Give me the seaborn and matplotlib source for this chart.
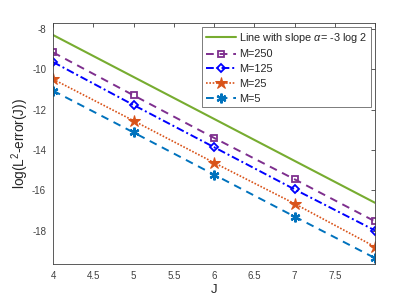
import numpy as np
import pandas as pd
import matplotlib
matplotlib.use("Agg")
import matplotlib.pyplot as plt
import seaborn as sns

# values
J = [4, 5, 6, 7, 8]
slope_line = [-8.3, -8.3 - 3 * np.log(2), -8.3 - 6 * np.log(2), -8.3 - 9 * np.log(2), -8.3 - 12 * np.log(2)]
err_m250 = [-9.16, -11.29, -13.40, -15.45, -17.54]
err_m125 = [-9.64, -11.77, -13.86, -15.95, -17.99]
err_m25 = [-10.49, -12.55, -14.63, -16.66, -18.80]
err_m5 = [-11.06, -13.13, -15.22, -17.30, -19.36]

xticks = [4, 4.5, 5, 5.5, 6, 6.5, 7, 7.5]
xticklabels = ["4", "4.5", "5", "5.5", "6", "6.5", "7", "7.5"]
yticks = [-18, -16, -14, -12, -10, -8]

sns.set_theme(style="white")
plt.rcParams['font.family'] = ['Liberation Sans', 'DejaVu Sans']
plt.rcParams['mathtext.fontset'] = 'custom'
plt.rcParams['mathtext.rm'] = 'Liberation Sans'
plt.rcParams['mathtext.it'] = 'Liberation Sans:italic'

fig = plt.figure(figsize=(4.15, 2.98), dpi=100)
ax = fig.add_axes([0.128, 0.114, 0.776, 0.809])

sns.lineplot(x=J, y=slope_line, color="#77AC30", linewidth=1.5, ax=ax,
             label=r"Line with slope $\alpha$= -3 log 2")
sns.lineplot(x=J, y=err_m250, color="#7E2F8E", linestyle=(0, (4, 3)), linewidth=1.4,
             marker="s", markersize=5, markerfacecolor="none", markeredgecolor="#7E2F8E",
             markeredgewidth=1.3, ax=ax, label="M=250")
sns.lineplot(x=J, y=err_m125, color="#0000FF", linestyle=(0, (4, 1.5, 1, 1.5)), linewidth=1.4,
             marker="D", markersize=4.5, markerfacecolor="none", markeredgecolor="#0000FF",
             markeredgewidth=1.3, ax=ax, label="M=125")
sns.lineplot(x=J, y=err_m25, color="#D95319", linestyle=(0, (1, 1)), linewidth=1.2,
             marker="*", markersize=9, markerfacecolor="#D95319", markeredgecolor="#D95319",
             ax=ax, label="M=25")
sns.lineplot(x=J, y=err_m5, color="#0072BD", linestyle=(0, (4, 3)), linewidth=1.4,
             marker=(6, 2, 0), markersize=7, markeredgecolor="#0072BD",
             markeredgewidth=1.6, ax=ax, label="M=5")

ax.set_xlim(4, 8)
ax.set_ylim(-19.65, -7.7)
ax.set_xticks(xticks + [8])
ax.set_xticklabels(xticklabels + [""])
ax.set_yticks(yticks)
ax.set_yticklabels([str(v) for v in yticks])
ax.tick_params(direction="in", length=3, width=0.6, labelsize=7, colors="#404040",
               top=True, right=True, pad=5)
for s in ax.spines.values():
    s.set_color("#404040")
    s.set_linewidth(0.6)
ax.set_xlabel("J", fontsize=9.5, color="#262626", labelpad=2)
ax.set_ylabel(r"log(L$^2$-error(J))", fontsize=9.8, color="#262626", labelpad=1)

leg = ax.legend(loc="upper right", fontsize=7.8, frameon=True, fancybox=False,
                borderpad=0.3, labelspacing=0.45, handlelength=2.8, handletextpad=0.3,
                borderaxespad=0.4)
leg.get_frame().set_edgecolor("#404040")
leg.get_frame().set_linewidth(0.6)

fig.savefig("out.png", dpi=100)
